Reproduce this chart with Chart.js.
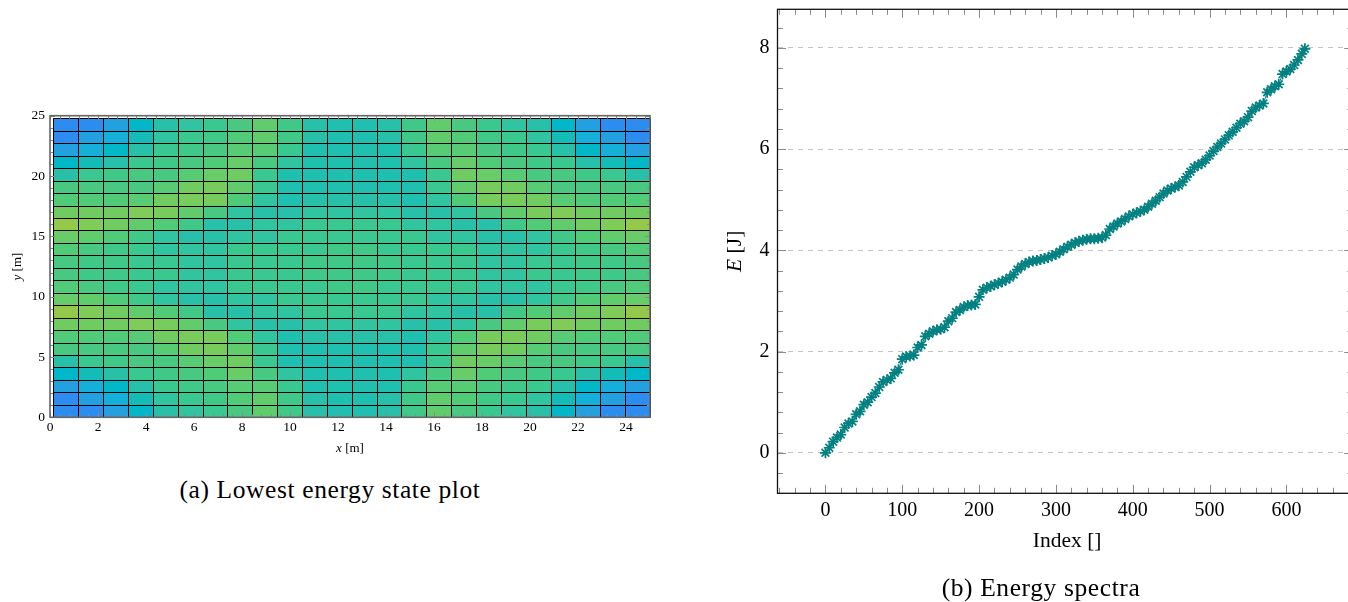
<!DOCTYPE html>
<html>
<head>
<meta charset="utf-8">
<script src="https://cdn.jsdelivr.net/npm/chart.js@4.4.1/dist/chart.umd.min.js"></script>
<style>
  html, body { margin: 0; padding: 0; background: #fff; overflow: hidden; width: 1348px; height: 602px; }
  .wrap { position: absolute; }
  #wrapA { left: 0; top: 0; width: 700px; height: 470px; }
  #wrapB { left: 700px; top: 0; width: 660px; height: 602px; }
  .cap {
    position: absolute; white-space: nowrap; transform: translate(-50%, -50%);
    font-family: "Liberation Serif", serif; font-size: 25.5px; letter-spacing: 0.6px; color: #000;
  }
</style>
</head>
<body>
<div class="wrap" id="wrapA"><canvas id="stateChart" width="700" height="470"></canvas></div>
<div class="wrap" id="wrapB"><canvas id="specChart" width="660" height="602"></canvas></div>
<div class="cap" style="left:330px; top:490px;">(a) Lowest energy state plot</div>
<div class="cap" style="left:1041px; top:588px;">(b) Energy spectra</div>

<script>
// ---- (a) lowest energy state, 24 x 24 cells, rows listed top (y=25) to bottom (y=0)
const STATE_X_TICKS = [0, 2, 4, 6, 8, 10, 12, 14, 16, 18, 20, 22, 24];
const STATE_Y_TICKS = [0, 5, 10, 15, 20, 25];
const STATE_LEVELS = [
  [0,0,1,3,6,7,8,10,13,9,6,5,5,6,9,13,10,8,7,6,3,1,0,0],
  [0,1,2,4,7,8,9,11,13,9,6,5,5,6,9,13,11,9,8,7,4,2,1,0],
  [1,2,3,6,8,9,10,12,12,8,5,5,5,5,8,12,12,10,9,8,6,3,2,1],
  [3,4,6,8,9,10,11,14,10,7,5,5,5,5,7,10,14,11,10,9,8,6,4,3],
  [6,8,9,10,10,12,14,15,8,5,5,5,5,5,5,8,15,14,12,10,10,9,8,6],
  [10,10,10,10,12,15,16,13,8,5,5,5,5,5,5,8,13,16,15,12,10,10,10,10],
  [11,11,11,12,15,16,16,11,7,5,6,6,6,6,5,7,11,16,16,15,12,11,11,11],
  [15,15,15,17,16,13,10,7,6,6,7,7,7,7,6,6,7,10,13,16,17,15,15,15],
  [19,17,15,13,11,9,6,6,7,7,8,8,8,8,7,7,6,6,9,11,13,15,17,19],
  [14,13,11,9,7,6,6,7,7,8,8,8,8,8,8,7,7,6,6,7,9,11,13,14],
  [11,10,9,8,7,7,7,8,8,8,8,9,9,8,8,8,8,7,7,7,8,9,10,11],
  [10,9,9,8,8,7,7,8,8,8,9,9,9,9,8,8,8,7,7,8,8,9,9,10],
  [10,9,9,8,8,7,7,8,8,8,9,9,9,9,8,8,8,7,7,8,8,9,9,10],
  [11,10,9,8,7,7,7,8,8,8,8,9,9,8,8,8,8,7,7,7,8,9,10,11],
  [14,13,11,9,7,6,6,7,7,8,8,8,8,8,8,7,7,6,6,7,9,11,13,14],
  [19,17,15,13,11,9,6,6,7,7,8,8,8,8,7,7,6,6,9,11,13,15,17,19],
  [15,15,15,17,16,13,10,7,6,6,7,7,7,7,6,6,7,10,13,16,17,15,15,15],
  [11,11,11,12,15,16,16,11,7,5,6,6,6,6,5,7,11,16,16,15,12,11,11,11],
  [10,10,10,10,12,15,16,13,8,5,5,5,5,5,5,8,13,16,15,12,10,10,10,10],
  [6,8,9,10,10,12,14,15,8,5,5,5,5,5,5,8,15,14,12,10,10,9,8,6],
  [3,4,6,8,9,10,11,14,10,7,5,5,5,5,7,10,14,11,10,9,8,6,4,3],
  [1,2,3,6,8,9,10,12,12,8,5,5,5,5,8,12,12,10,9,8,6,3,2,1],
  [0,1,2,4,7,8,9,11,13,9,6,5,5,6,9,13,11,9,8,7,4,2,1,0],
  [0,0,1,3,6,7,8,10,13,9,6,5,5,6,9,13,10,8,7,6,3,1,0,0]
];
// colour of each level (blue -> cyan -> green -> yellow-green)
const LEVEL_COLORS = [
  '#2d8cf0','#23a0e0','#14b0da','#00b8c8','#14bcb8','#20c0b0','#28c0a8','#30c4a0','#38c890','#40c888',
  '#48c880','#50cc78','#58cc74','#60cc6c','#68cc68','#70cc60','#78cc5c','#80cc58','#8aca50','#94c848'
];

// ---- (b) energy spectra (every 5th index)
const SPEC_INDEX = [
  0,5,10,15,20,25,30,35,40,45,50,55,60,65,70,75,80,85,90,95,
  100,105,110,115,120,125,130,135,140,145,150,155,160,165,170,175,180,185,190,195,
  200,205,210,215,220,225,230,235,240,245,250,255,260,265,270,275,280,285,290,295,
  300,305,310,315,320,325,330,335,340,345,350,355,360,365,370,375,380,385,390,395,
  400,405,410,415,420,425,430,435,440,445,450,455,460,465,470,475,480,485,490,495,
  500,505,510,515,520,525,530,535,540,545,550,555,560,565,570,575,580,585,590,595,
  600,605,610,615,620,624
];
const SPEC_ENERGY = [
  0.00,0.10,0.22,0.30,0.36,0.50,0.58,0.62,0.76,0.82,
  0.95,1.00,1.10,1.18,1.30,1.40,1.44,1.47,1.58,1.64,
  1.85,1.90,1.91,1.93,2.08,2.13,2.30,2.35,2.40,2.43,
  2.44,2.48,2.60,2.66,2.78,2.82,2.88,2.91,2.92,2.93,
  3.08,3.22,3.26,3.29,3.32,3.35,3.38,3.42,3.46,3.52,
  3.62,3.68,3.73,3.77,3.79,3.80,3.82,3.84,3.86,3.89,
  3.92,3.97,4.02,4.07,4.11,4.15,4.18,4.20,4.22,4.23,
  4.23,4.24,4.25,4.30,4.42,4.47,4.53,4.57,4.62,4.67,
  4.71,4.74,4.77,4.80,4.86,4.92,4.98,5.05,5.12,5.18,
  5.22,5.25,5.28,5.35,5.45,5.55,5.64,5.68,5.72,5.79,
  5.87,5.96,6.04,6.11,6.19,6.27,6.34,6.42,6.50,6.55,
  6.63,6.75,6.82,6.86,6.90,7.12,7.18,7.24,7.28,7.48,
  7.53,7.58,7.66,7.76,7.88,7.98
];
const SPEC_X_TICKS = [0, 100, 200, 300, 400, 500, 600];
const SPEC_Y_TICKS = [0, 2, 4, 6, 8];

const SERIF = '"Liberation Serif", serif';
const TEAL = '#008080';

// cell block extent inside the (0..25) x (0..25) axes
const CELL = { x0: 0.14, x1: 25, y0: 0, y1: 24.78 };

/* ---------- plugins ---------- */

// heat cells drawn from the dataset points through the chart scales
const cellPlugin = {
  id: 'stateCells',
  beforeDatasetsDraw(c) {
    const { ctx, scales: { x, y } } = c;
    const pts = c.data.datasets[0].data;
    const ncol = STATE_LEVELS[0].length, nrow = STATE_LEVELS.length;
    const cw = (CELL.x1 - CELL.x0) / ncol, ch = (CELL.y1 - CELL.y0) / nrow;
    ctx.save();
    pts.forEach(p => {
      const x0 = x.getPixelForValue(p.x - cw / 2), x1 = x.getPixelForValue(p.x + cw / 2);
      const y0 = y.getPixelForValue(p.y + ch / 2), y1 = y.getPixelForValue(p.y - ch / 2);
      ctx.fillStyle = LEVEL_COLORS[p.v];
      ctx.fillRect(x0, y0, x1 - x0 + 0.6, y1 - y0 + 0.6);
    });
    const top = y.getPixelForValue(CELL.y1), bot = y.getPixelForValue(CELL.y0);
    const lft = x.getPixelForValue(CELL.x0), rgt = x.getPixelForValue(CELL.x1);
    ctx.strokeStyle = '#000';
    ctx.lineWidth = 1;
    ctx.beginPath();
    for (let k = 0; k <= ncol; k++) {
      const px = Math.round(x.getPixelForValue(CELL.x0 + k * cw)) + 0.5;
      ctx.moveTo(px, top); ctx.lineTo(px, bot);
    }
    for (let r = 0; r <= nrow; r++) {
      const py = Math.round(y.getPixelForValue(CELL.y0 + r * ch)) + 0.5;
      ctx.moveTo(lft, py); ctx.lineTo(rgt, py);
    }
    ctx.stroke();
    ctx.restore();
  }
};

// pgfplots-like box: frame plus inward ticks on all four sides
function boxTicks(o) {
  return {
    id: 'boxTicks',
    afterDraw(c) {
      const { ctx, chartArea: a, scales: { x, y } } = c;
      ctx.save();
      ctx.strokeStyle = o.tickColor;
      ctx.lineWidth = 1;
      ctx.beginPath();
      const vx = (v, len) => {
        const px = Math.round(x.getPixelForValue(v)) + 0.5;
        ctx.moveTo(px, a.bottom); ctx.lineTo(px, a.bottom - len);
        ctx.moveTo(px, a.top); ctx.lineTo(px, a.top + len);
      };
      const vy = (v, len) => {
        const py = Math.round(y.getPixelForValue(v)) + 0.5;
        ctx.moveTo(a.left, py); ctx.lineTo(a.left + len, py);
        ctx.moveTo(a.right, py); ctx.lineTo(a.right - len, py);
      };
      for (let v = o.xMinorFrom; v <= x.max + 1e-9; v += o.xMinor) if (v >= x.min) vx(v, o.minorLen);
      for (let v = o.yMinorFrom; v <= y.max + 1e-9; v += o.yMinor) if (v >= y.min) vy(v, o.minorLen);
      o.xMajor.forEach(v => vx(v, o.majorLen));
      o.yMajor.forEach(v => vy(v, o.majorLen));
      ctx.stroke();
      ctx.strokeStyle = o.frameColor;
      ctx.lineWidth = o.frameWidth;
      ctx.strokeRect(a.left, a.top, a.right - a.left, a.bottom - a.top);
      ctx.restore();
    }
  };
}

// axis titles with italic symbols, placed against the chart area
function axisTitles(items) {
  return {
    id: 'axisTitles',
    afterDraw(c) {
      const { ctx, chartArea: a } = c;
      items.forEach(t => {
        const [cx, cy] = t.at(a);
        ctx.save();
        ctx.translate(cx, cy);
        if (t.rot) ctx.rotate(t.rot);
        ctx.fillStyle = '#000';
        ctx.textBaseline = 'middle';
        ctx.textAlign = 'left';
        const fonts = t.parts.map(p => `${p.it ? 'italic ' : ''}${t.size}px ${SERIF}`);
        let w = 0;
        t.parts.forEach((p, i) => { ctx.font = fonts[i]; w += ctx.measureText(p.s).width; });
        let px = -w / 2;
        t.parts.forEach((p, i) => { ctx.font = fonts[i]; ctx.fillText(p.s, px, 0); px += ctx.measureText(p.s).width; });
        ctx.restore();
      });
    }
  };
}

const fixTicks = list => s => { s.ticks = list.map(v => ({ value: v })); };
// fixed axis thickness, and no extra label padding pushed into the layout
const fixSize = (prop, n) => s => {
  s[prop] = n;
  s.paddingTop = 0; s.paddingBottom = 0; s.paddingLeft = 0; s.paddingRight = 0;
};

/* ---------- (a) state plot ---------- */
const cellData = [];
{
  const ncol = STATE_LEVELS[0].length, nrow = STATE_LEVELS.length;
  const cw = (CELL.x1 - CELL.x0) / ncol, ch = (CELL.y1 - CELL.y0) / nrow;
  STATE_LEVELS.forEach((row, r) => row.forEach((v, k) => {
    cellData.push({ x: CELL.x0 + (k + 0.5) * cw, y: CELL.y1 - (r + 0.5) * ch, v });
  }));
}

new Chart(document.getElementById('stateChart'), {
  type: 'scatter',
  data: { datasets: [{ data: cellData, pointRadius: 0, pointHoverRadius: 0 }] },
  options: {
    responsive: false,
    animation: false,
    events: [],
    layout: { padding: { left: 0, right: 50, top: 115.7, bottom: 12.7 } },
    plugins: { legend: { display: false }, tooltip: { enabled: false } },
    scales: {
      x: {
        type: 'linear', min: 0, max: 25,
        afterFit: fixSize('height', 40),
        afterBuildTicks: fixTicks(STATE_X_TICKS),
        grid: { display: false, drawTicks: false },
        border: { display: false },
        ticks: { color: '#000', padding: 2, maxRotation: 0, autoSkip: false, font: { family: SERIF, size: 13.5 } }
      },
      y: {
        type: 'linear', min: 0, max: 25,
        afterFit: fixSize('width', 50),
        afterBuildTicks: fixTicks(STATE_Y_TICKS),
        grid: { display: false, drawTicks: false },
        border: { display: false },
        ticks: { color: '#000', padding: 5, autoSkip: false, font: { family: SERIF, size: 13.5 } }
      }
    }
  },
  plugins: [
    cellPlugin,
    boxTicks({ xMajor: STATE_X_TICKS, yMajor: STATE_Y_TICKS, xMinor: 0.4, xMinorFrom: 0, yMinor: 1, yMinorFrom: 0,
               majorLen: 5, minorLen: 3, tickColor: '#8a8a8a', frameColor: '#666', frameWidth: 1.6 }),
    axisTitles([
      { parts: [{ s: 'x', it: true }, { s: ' [m]' }], size: 13, at: a => [(a.left + a.right) / 2, a.bottom + 31] },
      { parts: [{ s: 'y', it: true }, { s: ' [m]' }], size: 13, rot: -Math.PI / 2, at: a => [a.left - 32, (a.top + a.bottom) / 2] }
    ])
  ]
});

/* ---------- (b) energy spectra ---------- */
new Chart(document.getElementById('specChart'), {
  type: 'scatter',
  data: {
    datasets: [{
      data: SPEC_INDEX.map((v, i) => ({ x: v, y: SPEC_ENERGY[i] })),
      showLine: true,
      borderColor: TEAL,
      borderWidth: 1,
      pointStyle: 'star',
      pointRadius: 5.5,
      pointBorderWidth: 1.7,
      pointBorderColor: TEAL,
      pointBackgroundColor: TEAL
    }]
  },
  options: {
    responsive: false,
    animation: false,
    events: [],
    layout: { padding: { left: 0, right: 6.2, top: 9.3, bottom: 58.7 } },
    plugins: { legend: { display: false }, tooltip: { enabled: false } },
    scales: {
      x: {
        type: 'linear', min: -62.4, max: 686.4,
        afterFit: fixSize('height', 50),
        afterBuildTicks: fixTicks(SPEC_X_TICKS),
        grid: { display: false, drawTicks: false },
        border: { display: false },
        ticks: { color: '#000', padding: 5, maxRotation: 0, autoSkip: false, font: { family: SERIF, size: 20 } }
      },
      y: {
        type: 'linear', min: -0.8, max: 8.76,
        afterFit: fixSize('width', 77.5),
        afterBuildTicks: fixTicks(SPEC_Y_TICKS),
        grid: { color: '#c4c4c4', lineWidth: 1, drawTicks: false },
        border: { display: false, dash: [5, 5] },
        ticks: { color: '#000', padding: 8, autoSkip: false, font: { family: SERIF, size: 20 } }
      }
    }
  },
  plugins: [
    boxTicks({ xMajor: SPEC_X_TICKS, yMajor: SPEC_Y_TICKS, xMinor: 20, xMinorFrom: -60, yMinor: 0.4, yMinorFrom: -0.8,
               majorLen: 8.5, minorLen: 5.5, tickColor: '#8a8a8a', frameColor: '#111', frameWidth: 1.3 }),
    axisTitles([
      { parts: [{ s: 'Index []' }], size: 21.5, at: a => [(a.left + a.right) / 2 + 2, a.bottom + 48] },
      { parts: [{ s: 'E', it: true }, { s: ' [J]' }], size: 21.5, rot: -Math.PI / 2, at: a => [a.left - 42, (a.top + a.bottom) / 2] }
    ])
  ]
});
</script>
</body>
</html>
